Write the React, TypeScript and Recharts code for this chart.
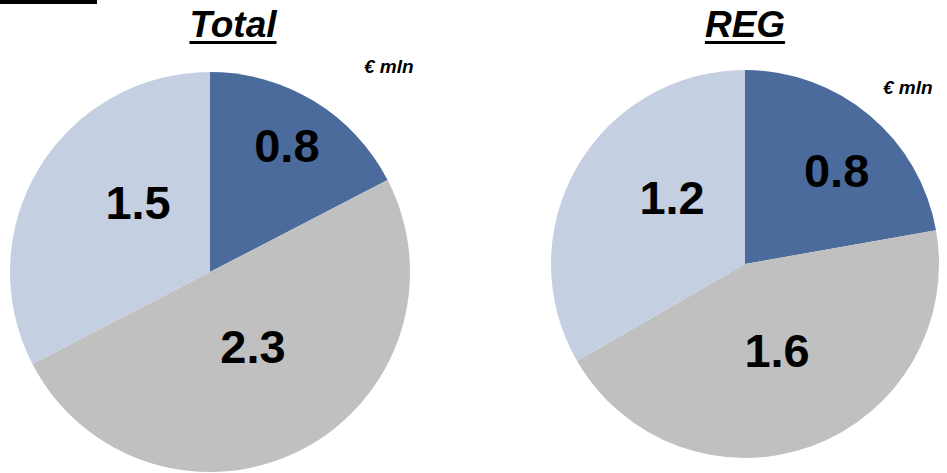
import { PieChart, Pie, Cell } from "recharts";

const SEGMENTS = ["A", "B", "C"];
const TOTAL_VALUES = [0.8, 2.3, 1.5];
const REG_VALUES = [0.8, 1.6, 1.2];
const TITLES = ["Total", "REG"];
const UNIT = "€ mln";

const COLORS = ["#4A6B9B", "#C0C0C0", "#C4CFE1"];
const FONT = "'Liberation Sans', Arial, sans-serif";
const RAD = Math.PI / 180;

// per-slice label placement tweaks: [radius factor, angle offset in degrees]
const LEFT_LABEL_POS = [[0.74, 0], [0.43, 2.6], [0.5, -12.7]];
const RIGHT_LABEL_POS = [[0.675, -4.4], [0.474, 0.4], [0.51, -12.5]];

const totalData = SEGMENTS.map((name, i) => ({ name, value: TOTAL_VALUES[i] }));
const regData = SEGMENTS.map((name, i) => ({ name, value: REG_VALUES[i] }));

function makeLabel(pos: number[][]) {
  return (props: any) => {
    const { cx, cy, midAngle, outerRadius, index, value } = props;
    const [f, off] = pos[index];
    const a = (midAngle + off) * RAD;
    const r = outerRadius * f;
    const x = cx + r * Math.cos(a);
    const y = cy - r * Math.sin(a);
    const fs = 47;
    return (
      <text x={x} y={y + fs * 0.358} textAnchor="middle" fill="#000" fontFamily={FONT} fontWeight="bold" fontSize={fs}>
        {value.toFixed(1)}
      </text>
    );
  };
}

const titleStyle = (left: number): React.CSSProperties => ({
  position: "absolute",
  left,
  top: 6,
  transform: "translateX(-50%)",
  fontFamily: FONT,
  fontWeight: "bold",
  fontStyle: "italic",
  fontSize: 37,
  lineHeight: "37px",
  textDecoration: "underline",
  textDecorationThickness: 3,
  textUnderlineOffset: 4,
  whiteSpace: "nowrap",
});

const unitStyle = (left: number, top: number): React.CSSProperties => ({
  position: "absolute",
  left,
  top,
  fontFamily: FONT,
  fontWeight: "bold",
  fontStyle: "italic",
  fontSize: 19,
  lineHeight: "19px",
  whiteSpace: "nowrap",
});

export default function App() {
  return (
    <div style={{ position: "fixed", left: 0, top: 0, width: 947, height: 473, background: "#fff", overflow: "hidden" }}>
      <div style={{ position: "absolute", left: 0, top: 0, width: 97, height: 4, background: "#000" }} />
      <PieChart width={947} height={473} margin={{ top: 0, right: 0, bottom: 0, left: 0 }}>
        <Pie
          data={totalData}
          dataKey="value"
          cx={210}
          cy={272}
          outerRadius={200}
          startAngle={90}
          endAngle={-270}
          stroke="none"
          label={makeLabel(LEFT_LABEL_POS)}
          labelLine={false}
          isAnimationActive={false}
        >
          {totalData.map((d, i) => (
            <Cell key={d.name} fill={COLORS[i]} />
          ))}
        </Pie>
        <Pie
          data={regData}
          dataKey="value"
          cx={745}
          cy={264}
          outerRadius={194}
          startAngle={90}
          endAngle={-270}
          stroke="none"
          label={makeLabel(RIGHT_LABEL_POS)}
          labelLine={false}
          isAnimationActive={false}
        >
          {regData.map((d, i) => (
            <Cell key={d.name} fill={COLORS[i]} />
          ))}
        </Pie>
      </PieChart>
      <div style={titleStyle(233)}>{TITLES[0]}</div>
      <div style={titleStyle(745)}>{TITLES[1]}</div>
      <div style={unitStyle(364, 57)}>{UNIT}</div>
      <div style={unitStyle(883, 78)}>{UNIT}</div>
    </div>
  );
}
